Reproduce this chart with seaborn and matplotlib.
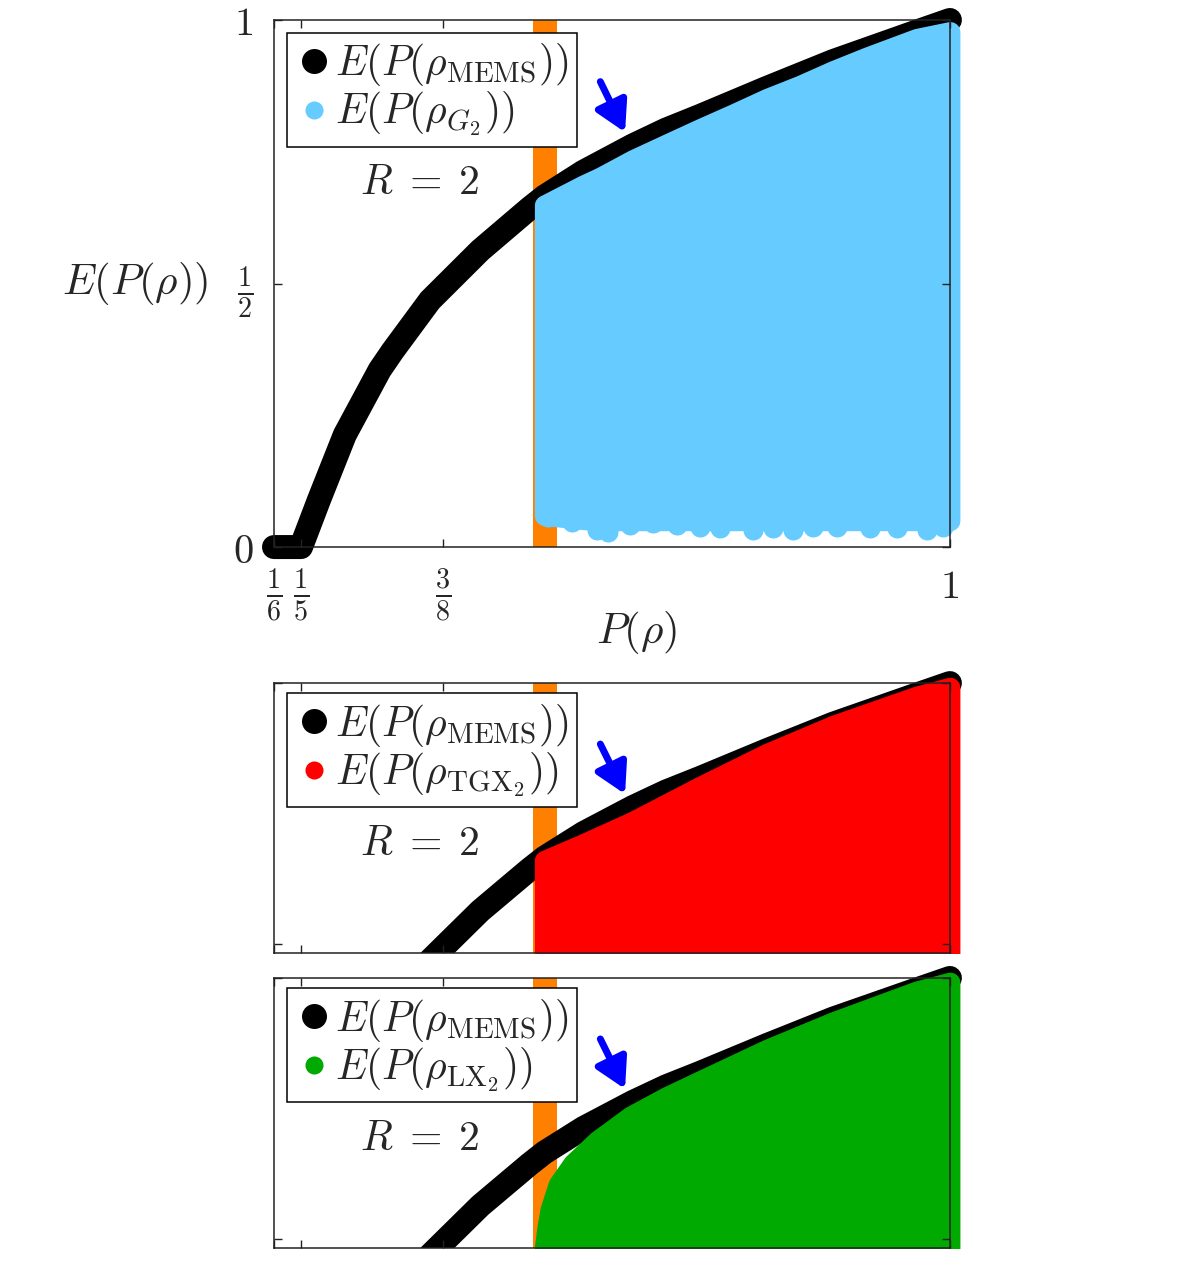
import numpy as np
import matplotlib
matplotlib.use("Agg")
import matplotlib.pyplot as plt
from matplotlib.lines import Line2D
from matplotlib.patches import Rectangle
import seaborn as sns

# ---------------- data ----------------
P_mems = [1/6, 0.2, 0.222, 0.254, 0.297, 0.313, 0.359, 0.421, 0.482, 0.5,
          0.548, 0.609, 0.650, 0.692, 0.774, 0.856, 0.959, 1.0]
E_mems = [0.0, 0.0, 0.089, 0.213, 0.336, 0.372, 0.468, 0.563, 0.643, 0.665,
          0.712, 0.762, 0.792, 0.818, 0.871, 0.922, 0.978, 1.0]

# G2 cloud: upper / lower envelope (marker centres)
P_g2 = [0.5, 0.548, 0.569, 0.609, 0.651, 0.692, 0.733, 0.774, 0.815, 0.856, 0.898, 0.959, 1.0]
E_g2_top = [0.649, 0.687, 0.702, 0.735, 0.765, 0.794, 0.822, 0.851, 0.876, 0.904, 0.930, 0.965, 0.978]
E_g2_bot = [0.060, 0.052, 0.050, 0.050, 0.050, 0.050, 0.050, 0.050, 0.050, 0.050, 0.050, 0.050, 0.050]
# G2 lowest points along the bottom edge
P_g2_edge = [0.5045, 0.534, 0.565, 0.578, 0.606, 0.634, 0.664, 0.692, 0.717, 0.757,
             0.782, 0.807, 0.831, 0.861, 0.902, 0.935, 0.972, 0.992]
E_g2_edge = [0.057, 0.047, 0.032, 0.028, 0.042, 0.046, 0.042, 0.038, 0.036, 0.032,
             0.036, 0.032, 0.038, 0.038, 0.036, 0.036, 0.032, 0.038]

# TGX2 region upper envelope
P_tgx = [0.5, 0.548, 0.609, 0.692, 0.774, 0.856, 0.959, 1.0]
E_tgx_top = [0.660, 0.692, 0.735, 0.802, 0.865, 0.919, 0.975, 0.992]

# LX2 region upper envelope
P_lx = [0.5, 0.503, 0.507, 0.517, 0.535, 0.565, 0.606, 0.650, 0.692, 0.774, 0.856, 0.959, 1.0]
E_lx_top = [0.483, 0.520, 0.556, 0.604, 0.644, 0.688, 0.735, 0.772, 0.803, 0.863, 0.916, 0.975, 0.992]

region_floor = 0.46
P_band = (0.486, 0.5155)

x_ticks = [1/6, 1/5, 3/8, 1.0]
x_ticklabels = [r'$\frac{1}{6}$', r'$\frac{1}{5}$', r'$\frac{3}{8}$', r'$1$']
y_ticks = [0.0, 0.5, 1.0]
y_ticklabels = [r'$0$', r'$\frac{1}{2}$', r'$1$']

panel_names = [r'$E(P(\rho_{G_2}))$', r'$E(P(\rho_{\mathrm{TGX}_2}))$', r'$E(P(\rho_{\mathrm{LX}_2}))$']
mems_name = r'$E(P(\rho_{\mathrm{MEMS}}))$'
colors = ['#66CCFF', '#FF0000', '#00AA00']

# ---------------- style ----------------
sns.set_theme(style="ticks")
plt.rcParams['font.family'] = ['DejaVu Sans']
plt.rcParams['mathtext.fontset'] = 'cm'
plt.rcParams['axes.linewidth'] = 1.1

fig = plt.figure(figsize=(11.84, 12.64), dpi=100)
fig.patch.set_facecolor('white')
ax0 = fig.add_axes([0.2314, 0.5672, 0.5709, 0.4170])
ax1 = fig.add_axes([0.2314, 0.2460, 0.5709, 0.2136])
ax2 = fig.add_axes([0.2314, 0.0127, 0.5709, 0.2136])
axes = [ax0, ax1, ax2]

MARK_PX = 20.0
stroke_pt = MARK_PX * 72 / 100.0
black_lw = 24.0 * 72 / 100.0


def style_axis(ax, top):
    ax.set_axisbelow(False)
    for s in ax.spines.values():
        s.set_color('#222222')
        s.set_linewidth(1.1)
        s.set_visible(True)
        s.set_zorder(2.6)
    ax.set_xticks(x_ticks)
    ax.set_yticks(y_ticks)
    ax.tick_params(direction='in', length=6, width=1.0, color='#222222',
                   top=True, right=True, bottom=True, left=True)
    if top:
        ax.set_xticklabels(x_ticklabels, fontsize=29)
        ax.set_yticklabels(y_ticklabels, fontsize=29)
        ax.tick_params(axis='x', pad=14)
        ax.tick_params(axis='y', pad=15)
    else:
        ax.set_xticklabels([])
        ax.set_yticklabels([])
    ax.set_facecolor('white')


for i, ax in enumerate(axes):
    top = (i == 0)
    style_axis(ax, top)
    if top:
        clip_rect = Rectangle((-0.05, -0.05), 1.11, 1.15, transform=ax.transAxes,
                              facecolor='none', edgecolor='none')
    else:
        clip_rect = Rectangle((0, 0), 1.06, 1.1, transform=ax.transAxes,
                              facecolor='none', edgecolor='none')
    ax.add_patch(clip_rect)
    clip_rect.set_visible(False)

    # orange band at P = 1/2
    ax.axvspan(P_band[0], P_band[1], color='#FF8000', lw=0, zorder=0.5)

    # MEMS curve
    sns.lineplot(x=P_mems, y=E_mems, ax=ax, color='black', linewidth=black_lw,
                 legend=False, zorder=2.0, sort=False)
    ln = ax.lines[-1]
    ln.set_solid_capstyle('round')
    ln.set_solid_joinstyle('round')
    ln.set_clip_path(clip_rect)

    col = colors[i]
    if i == 0:
        poly = ax.fill_between(P_g2, E_g2_bot, E_g2_top, color=col, linewidth=stroke_pt,
                               edgecolor=col, zorder=2.2)
        sns.scatterplot(x=P_g2_edge, y=E_g2_edge, ax=ax, color=col, s=(stroke_pt) ** 2,
                        linewidth=0, zorder=2.2, legend=False)
        ax.collections[-1].set_clip_path(clip_rect)
    elif i == 1:
        poly = ax.fill_between(P_tgx, region_floor, E_tgx_top, color=col, linewidth=stroke_pt,
                               edgecolor=col, zorder=2.2)
    else:
        poly = ax.fill_between(P_lx, region_floor, E_lx_top, color=col, linewidth=stroke_pt,
                               edgecolor=col, zorder=2.2)
    poly.set_joinstyle('round')
    poly.set_clip_path(clip_rect)

    ax.set_xlim(1/6, 1.0)
    if top:
        ax.set_ylim(0.0, 1.0)
    else:
        ax.set_ylim(0.482, 1.0)

    # blue arrow
    ax.annotate('', xy=(0.5995, 0.787), xytext=(0.569, 0.883), xycoords='data',
                arrowprops=dict(arrowstyle='-|>,head_length=1.5,head_width=0.85',
                                color='#0000FF', lw=5, shrinkA=0, shrinkB=0),
                zorder=3)

    # R = 2
    ax.text(0.216, 0.693 if top else 0.407, r'$R\;=\;2$', transform=ax.transAxes,
            fontsize=30, ha='center', va='center', zorder=3)

    # legend
    handles = [
        Line2D([], [], linestyle='none', marker='o', markersize=18, color='black',
               markeredgewidth=0, label=mems_name),
        Line2D([], [], linestyle='none', marker='o', markersize=13, color=col,
               markeredgewidth=0, label=panel_names[i]),
    ]
    leg = ax.legend(handles=handles, loc='upper left',
                    bbox_to_anchor=(0.0192, 0.9753 if top else 0.962),
                    fontsize=30, frameon=True, fancybox=False, framealpha=1.0,
                    edgecolor='black', borderpad=0.2, handletextpad=0.05,
                    handlelength=0.9, labelspacing=0.05, borderaxespad=0.0)
    leg.get_frame().set_linewidth(1.1)
    leg.set_zorder(5)

ax0.set_xlabel(r'$P(\rho)$', fontsize=31)
ax0.xaxis.set_label_coords(0.537, -0.163)
ax0.xaxis.label.set_va('center')
ax0.set_ylabel(r'$E(P(\rho))$', fontsize=31, rotation=0, ha='center', va='center')
ax0.yaxis.set_label_coords(-0.206, 0.5)

fig.savefig('out.png', dpi=100, facecolor='white')
